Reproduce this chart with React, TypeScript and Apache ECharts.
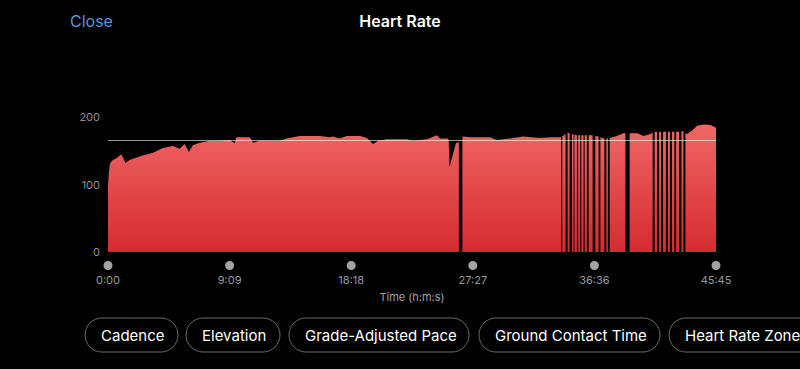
import React, { useEffect, useRef } from "react";
import * as echarts from "echarts";

// Elapsed time (s) and heart rate (bpm); null = sensor dropout
const seconds = [
  0, 4, 9, 20, 38, 60, 79, 95, 112, 157, 203, 248, 293, 323, 346, 365, 383, 414, 459, 504,
  550, 572, 580, 640, 655, 685, 776, 806, 866, 956, 1002, 1015, 1047, 1078, 1138, 1169, 1197, 1219, 1259, 1350,
  1377, 1440, 1485, 1499, 1535, 1538, 1542, 1549, 1571, 1584, 1592, 1600, 1635, 1725, 1755, 1816, 1874, 1951, 2000, 2046,
  2048, 2051, 2066, 2070, 2075, 2084, 2090, 2095, 2102, 2104, 2106, 2117, 2120, 2123, 2132, 2134, 2137, 2147, 2150, 2152,
  2162, 2166, 2170, 2188, 2194, 2200, 2215, 2219, 2223, 2241, 2245, 2250, 2257, 2261, 2265, 2298, 2327, 2336, 2345, 2355,
  2390, 2417, 2449, 2459, 2463, 2468, 2479, 2483, 2488, 2497, 2501, 2506, 2519, 2523, 2528, 2537, 2541, 2546, 2557, 2561,
  2565, 2578, 2583, 2589, 2598, 2602, 2607, 2615, 2637, 2660, 2690, 2720, 2745,
];
const bpm: (number | null)[] = [
  98, 118, 131, 136, 139, 145, 132, 136, 138, 143, 147, 154, 157, 153, 160, 148, 158, 162, 165, 165,
  166, 161, 170, 170, 162, 165, 165, 168, 172, 172, 170, 171, 168, 172, 172, 169, 160, 165, 167, 167,
  165, 167, 173, 168, 168, 166, 126, 135, 161, 163, null, 171, 170, 170, 166, 168, 171, 169, 170, 170,
  null, 171, 175, null, 177, 176, null, 175, 174, null, 174, 173, null, 173, 173, null, 173, 173, null, 173,
  173, null, 173, 173, null, 172, 171, null, 170, 168, null, 168, 168, null, 169, 172, 176, 176, null, 176,
  176, 172, 175, 177, null, 178, 178, null, 178, 178, null, 178, 178, null, 178, 178, null, 178, 178, null,
  178, 178, null, 179, 179, null, 176, 175, 180, 187, 189, 188, 184,
];

const averageHr = 166;
const durationSec = 2745;
const tickStepSec = 549;
const yMax = 200;
const yStep = 100;

const chipLabels = ["Cadence", "Elevation", "Grade-Adjusted Pace", "Ground Contact Time", "Heart Rate Zones"];

const FONT = 'Inter, "Noto Sans", Roboto, sans-serif';

function fmtTime(v: number): string {
  const m = Math.floor(v / 60);
  const s = Math.round(v % 60);
  return `${m}:${s < 10 ? "0" : ""}${s}`;
}

export default function App() {
  const ref = useRef<HTMLDivElement>(null);

  useEffect(() => {
    if (!ref.current) return;
    const chart = echarts.init(ref.current, undefined, { renderer: "svg" });

    const data = seconds.map((t, i) => [t, bpm[i]]);

    const chipLefts = [85, 186, 289, 479, 669];
    const chipWidths = [93, 94, 180, 181, 160];
    const chipGraphics: any[] = [];
    chipLabels.forEach((label, i) => {
      chipGraphics.push({
        type: "rect",
        shape: { x: chipLefts[i], y: 318, width: chipWidths[i], height: 34, r: 17 },
        style: { fill: "#000", stroke: "#6a6a6a", lineWidth: 1 },
        z: 10,
      });
      chipGraphics.push({
        type: "text",
        x: chipLefts[i] + 16,
        y: 335,
        style: {
          text: label,
          fill: "#ffffff",
          fontSize: 15,
          fontFamily: FONT,
          align: "left",
          verticalAlign: "middle",
        },
        z: 11,
      });
    });

    chart.setOption({
      animation: false,
      backgroundColor: "#000000",
      textStyle: { fontFamily: FONT },
      grid: { left: 108, right: 84, top: 117, bottom: 117, containLabel: false },
      xAxis: {
        type: "value",
        min: 0,
        max: durationSec,
        interval: tickStepSec,
        name: "Time (h:m:s)",
        nameLocation: "middle",
        nameGap: 39,
        nameTextStyle: { color: "#a0a0a0", fontSize: 11, fontFamily: FONT },
        axisLine: { show: false },
        axisTick: { show: false },
        splitLine: { show: false },
        axisLabel: {
          margin: 9,
          formatter: (v: number) => `{d| }\n{v|${fmtTime(v)}}`,
          rich: {
            d: { width: 9, height: 9, borderRadius: 4.5, backgroundColor: "#a3a3a3", lineHeight: 9 },
            v: { color: "#9a9a9a", fontSize: 11, fontFamily: FONT, lineHeight: 17, padding: [3, 0, 0, 0] },
          },
        },
      },
      yAxis: {
        type: "value",
        min: 0,
        max: yMax,
        interval: yStep,
        axisLine: { show: false },
        axisTick: { show: false },
        splitLine: { show: false },
        axisLabel: { color: "#8e8e8e", fontSize: 11, margin: 8, fontFamily: FONT },
      },
      series: [
        {
          type: "line",
          data,
          showSymbol: false,
          connectNulls: false,
          smooth: false,
          lineStyle: { width: 0, opacity: 0 },
          areaStyle: {
            opacity: 1,
            color: new echarts.graphic.LinearGradient(
              0, 117, 0, 252,
              [
                { offset: 0, color: "#f26a6a" },
                { offset: 1, color: "#d52b2f" },
              ],
              true
            ),
          },
          markLine: {
            silent: true,
            symbol: ["none", "none"],
            label: { show: false },
            lineStyle: { color: "rgba(255,255,255,0.6)", width: 1, type: "solid" },
            data: [{ yAxis: averageHr }],
          },
          z: 2,
        },
      ],
      graphic: [
        {
          type: "text",
          x: 70,
          y: 21,
          style: {
            text: "Close",
            fill: "#5b93d6",
            fontSize: 16,
            fontFamily: FONT,
            align: "left",
            verticalAlign: "middle",
          },
        },
        {
          type: "text",
          x: 400,
          y: 21,
          style: {
            text: "Heart Rate",
            fill: "#ffffff",
            fontSize: 16,
            fontWeight: 600,
            fontFamily: FONT,
            align: "center",
            verticalAlign: "middle",
          },
        },
        ...chipGraphics,
      ],
    });

    return () => chart.dispose();
  }, []);

  return (
    <div
      ref={ref}
      style={{ position: "fixed", left: 0, top: 0, width: 800, height: 369, background: "#000" }}
    />
  );
}
